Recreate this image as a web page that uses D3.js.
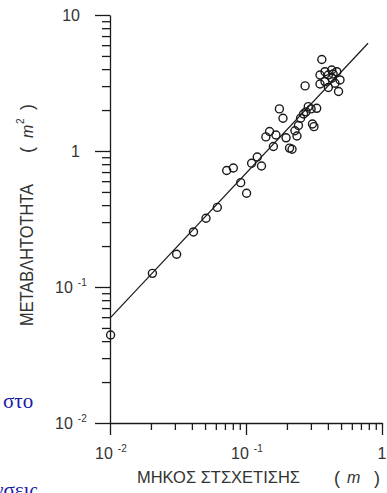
<!DOCTYPE html>
<html><head><meta charset="utf-8">
<script src="https://cdn.jsdelivr.net/npm/d3@7"></script>
<style>
html,body{margin:0;padding:0;background:#fff;}
svg{display:block;}
</style></head>
<body><svg id="c" width="387" height="493" font-family="'Liberation Sans',Arial,sans-serif"></svg>
<script>
// ---- data ----
const corrLength = [0.0101,0.0205,0.0309,0.0411,0.0508,0.0615,0.0914,0.101,0.0721,0.0807,
  0.110,0.121,0.130,0.159,0.140,0.149,0.166,0.197,0.209,0.218,
  0.176,0.187,0.229,0.237,0.243,0.252,0.265,0.272,0.287,0.301,
  0.331,0.308,0.316,0.361,0.350,0.350,0.381,0.381,0.403,0.403,
  0.427,0.427,0.451,0.465,0.491,0.479,0.437,0.276];
const variability = [0.0444,0.126,0.174,0.254,0.320,0.385,0.585,0.489,0.719,0.750,
  0.812,0.904,0.776,1.08,1.27,1.39,1.31,1.25,1.05,1.03,
  2.04,1.74,1.41,1.29,1.54,1.74,1.87,3.01,2.12,2.04,
  2.06,1.58,1.51,4.71,3.62,3.11,3.83,3.24,3.62,2.93,
  3.94,3.43,3.15,3.83,3.33,2.74,3.68,1.94];
const fitLineX = [0.01, 0.79];
const fitLineY = [0.059, 6.2];
const yTickValues = [0.01, 0.1, 1, 10];
const yTickBase = ["10", "10", "1", "10"];
const yTickExp = ["-2", "-1", "", ""];
const xTickValues = [0.01, 0.1, 1];
const xTickBase = ["10", "10", "1"];
const xTickExp = ["-2", "-1", ""];
const yTitle = "ΜΕΤΑΒΛΗΤΟΤΗΤΑ";
const yUnit = "m";
const xTitle = "ΜΗΚΟΣ ΣΤΣΧΕΤΙΣΗΣ";
const xUnit = "m";
const strayText = ["στο", "νσεις"];

// ---- drawing ----
const svg = d3.select("#c");
const x = d3.scaleLog().domain([0.01, 1]).range([110, 382]);
const y = d3.scaleLog().domain([0.01, 10]).range([423, 15]);
const ink = "#1a1a1a";

function minorTicks(sc) {
  const out = [];
  const [a, b] = sc.domain();
  for (let e = Math.round(Math.log10(a)); e < Math.round(Math.log10(b)); e++)
    for (let k = 2; k <= 9; k++) out.push(k * Math.pow(10, e));
  return out;
}

// y axis
const gy = svg.append("g").attr("transform", "translate(110,0)");
gy.call(d3.axisLeft(y).tickValues(yTickValues).tickSize(15).tickFormat("").tickSizeOuter(0));
gy.append("g").call(d3.axisLeft(y).tickValues(minorTicks(y)).tickSize(8).tickFormat("").tickSizeOuter(0));
gy.selectAll(".domain").attr("stroke", ink).attr("stroke-width", 1.3);
gy.selectAll(".tick line").attr("stroke", ink).attr("stroke-width", 1.3);
gy.selectAll("g g .domain").remove();

// x axis
const gx = svg.append("g").attr("transform", "translate(0,423)");
gx.call(d3.axisBottom(x).tickValues(xTickValues).tickSize(12).tickFormat("").tickSizeOuter(0));
gx.append("g").call(d3.axisBottom(x).tickValues(minorTicks(x)).tickSize(7).tickFormat("").tickSizeOuter(0));
gx.selectAll(".domain").attr("stroke", ink).attr("stroke-width", 1.3);
gx.selectAll(".tick line").attr("stroke", ink).attr("stroke-width", 1.3);
gx.selectAll("g g .domain").remove();

// tick labels
const labColor = "#333";
yTickValues.forEach((v, i) => {
  const t = svg.append("text").attr("fill", labColor).attr("font-size", 16)
    .attr("y", y(v) + 6);
  if (yTickExp[i]) {
    t.attr("x", 55).attr("text-anchor", "start");
    t.append("tspan").text(yTickBase[i]);
    t.append("tspan").attr("dx", 5).attr("dy", -7).attr("font-size", 10).text(yTickExp[i]);
  } else {
    t.attr("x", 80).attr("text-anchor", "end").text(yTickBase[i]);
  }
});
xTickValues.forEach((v, i) => {
  const t = svg.append("text").attr("fill", labColor).attr("font-size", 16)
    .attr("y", 459);
  if (xTickExp[i]) {
    t.attr("x", x(v) - 15).attr("text-anchor", "start");
    t.append("tspan").text(xTickBase[i]);
    t.append("tspan").attr("dx", 5).attr("dy", -7).attr("font-size", 10).text(xTickExp[i]);
  } else {
    t.attr("x", x(v)).attr("text-anchor", "middle").text(xTickBase[i]);
  }
});

// axis titles
const yt = svg.append("text").attr("fill", labColor).attr("font-size", 18)
  .attr("transform", "translate(33,326) rotate(-90)");
yt.append("tspan").attr("textLength", 142).attr("lengthAdjust", "spacingAndGlyphs").text(yTitle);
svg.append("text").attr("fill", labColor).attr("font-size", 18)
  .attr("transform", "translate(33,153) rotate(-90)").text("(");
svg.append("text").attr("fill", labColor).attr("font-size", 16).attr("font-style", "italic")
  .attr("transform", "translate(33,138) rotate(-90)").text(yUnit);
svg.append("text").attr("fill", labColor).attr("font-size", 10)
  .attr("transform", "translate(24,124) rotate(-90)").text("2");
svg.append("text").attr("fill", labColor).attr("font-size", 18)
  .attr("transform", "translate(33,110) rotate(-90)").text(")");

svg.append("text").attr("fill", labColor).attr("font-size", 17)
  .attr("x", 137).attr("y", 483).attr("textLength", 163).attr("lengthAdjust", "spacingAndGlyphs").text(xTitle);
svg.append("text").attr("fill", labColor).attr("font-size", 18).attr("x", 334).attr("y", 484).text("(");
svg.append("text").attr("fill", labColor).attr("font-size", 16).attr("font-style", "italic")
  .attr("x", 347).attr("y", 483).text(xUnit);
svg.append("text").attr("fill", labColor).attr("font-size", 18).attr("x", 374).attr("y", 484).text(")");

// fit line
svg.append("path")
  .datum(fitLineX.map((d, i) => [d, fitLineY[i]]))
  .attr("d", d3.line().x(d => x(d[0])).y(d => y(d[1])))
  .attr("fill", "none").attr("stroke", ink).attr("stroke-width", 1.2);

// points
svg.append("g").selectAll("circle")
  .data(corrLength.map((d, i) => [d, variability[i]]))
  .join("circle")
  .attr("cx", d => x(d[0])).attr("cy", d => y(d[1])).attr("r", 4)
  .attr("fill", "none").attr("stroke", ink).attr("stroke-width", 1.4);

// stray text from the surrounding page
const serif = "'Liberation Serif','Times New Roman',serif";
svg.append("text").attr("x", 3).attr("y", 408).attr("fill", "#1a1aa8")
  .style("font-family", serif).attr("font-size", 21).text(strayText[0]);
svg.append("text").attr("x", -6).attr("y", 497).attr("fill", "#1a1aa8")
  .style("font-family", serif).attr("font-size", 21).text(strayText[1]);
</script></body></html>
